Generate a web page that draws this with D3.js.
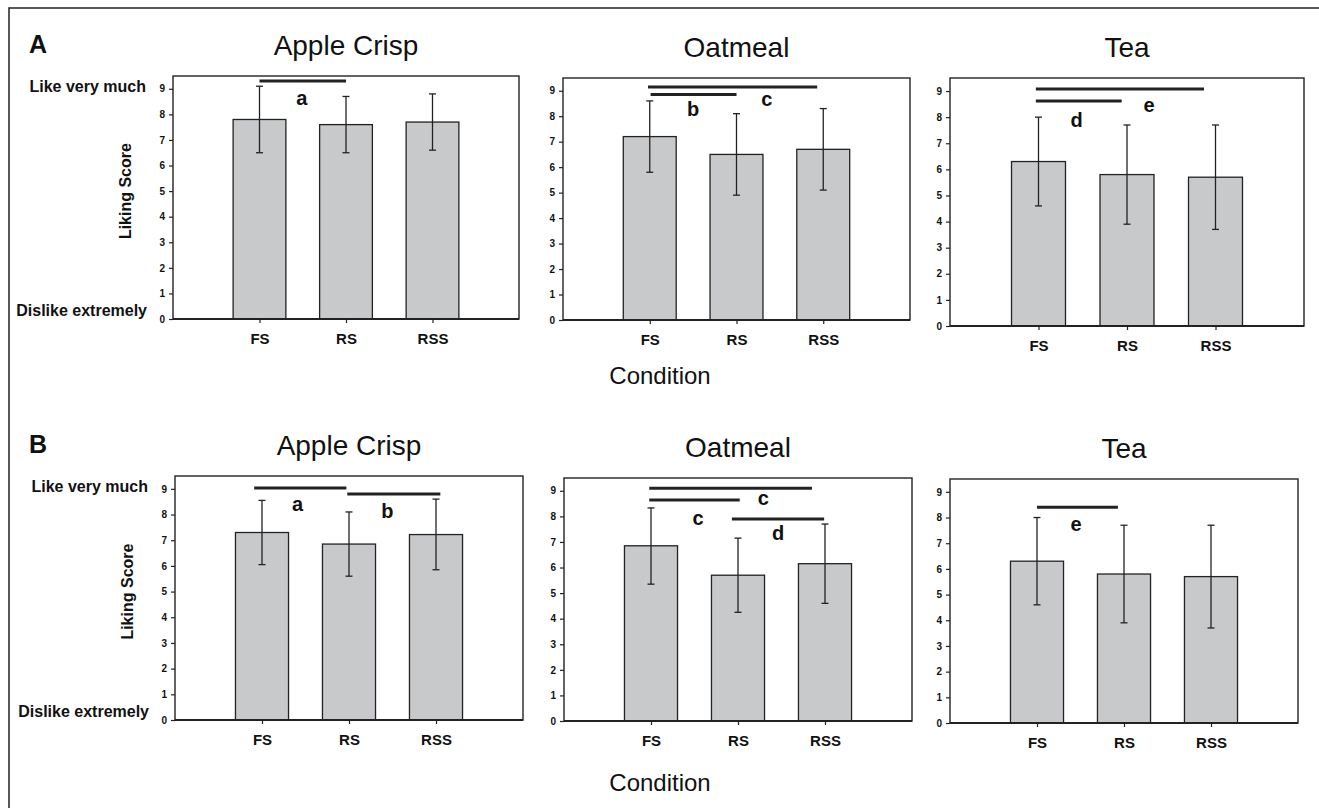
<!DOCTYPE html>
<html>
<head>
<meta charset="utf-8">
<script src="https://cdn.jsdelivr.net/npm/d3@7/dist/d3.min.js"></script>
<style>
  html, body { margin: 0; padding: 0; background: #fff; }
  svg { display: block; font-family: 'Liberation Sans', Arial, sans-serif; }
</style>
</head>
<body>
<div id="chart"></div>
<script>
// ---- data ----
const categories = ['FS', 'RS', 'RSS'];
const foods = ['Apple Crisp', 'Oatmeal', 'Tea'];
const yTicks = [0, 1, 2, 3, 4, 5, 6, 7, 8, 9];

// panel A
const meansA = [[7.8, 7.6, 7.7], [7.2, 6.5, 6.7], [6.3, 5.8, 5.7]];
const lowA = [[6.5, 6.5, 6.6], [5.8, 4.9, 5.1], [4.6, 3.9, 3.7]];
const highA = [[9.1, 8.7, 8.8], [8.6, 8.1, 8.3], [8.0, 7.7, 7.7]];
const sigBarsA = [
    [{ from: 1.0, to: 2.0, y: 9.3 }],
    [{ from: 0.98, to: 2.93, y: 9.15 }, { from: 1.01, to: 2.0, y: 8.85 }],
    [{ from: 0.97, to: 2.87, y: 9.08 }, { from: 0.97, to: 1.94, y: 8.62 }]
];
const sigLettersA = [
    [{ t: 'a', x: 1.49, y: 8.63 }],
    [{ t: 'b', x: 1.5, y: 8.27 }, { t: 'c', x: 2.35, y: 8.66 }],
    [{ t: 'd', x: 1.43, y: 7.9 }, { t: 'e', x: 2.25, y: 8.47 }]
];

// panel B
const meansB = [[7.3, 6.85, 7.22], [6.85, 5.7, 6.15], [6.3, 5.8, 5.7]];
const lowB = [[6.05, 5.6, 5.85], [5.35, 4.25, 4.6], [4.6, 3.9, 3.7]];
const highB = [[8.55, 8.1, 8.6], [8.33, 7.15, 7.7], [8.0, 7.7, 7.7]];
const sigBarsB = [
    [{ from: 0.91, to: 1.97, y: 9.03 }, { from: 1.98, to: 3.05, y: 8.8 }],
    [{ from: 0.98, to: 2.85, y: 9.1 }, { from: 0.98, to: 2.02, y: 8.64 }, { from: 1.93, to: 2.99, y: 7.9 }],
    [{ from: 1.0, to: 1.93, y: 8.4 }]
];
const sigLettersB = [
    [{ t: 'a', x: 1.41, y: 8.4 }, { t: 'b', x: 2.44, y: 8.13 }],
    [{ t: 'c', x: 2.29, y: 8.7 }, { t: 'c', x: 1.54, y: 7.94 }, { t: 'd', x: 2.46, y: 7.35 }],
    [{ t: 'e', x: 1.45, y: 7.74 }]
];

// ---- layout ----
const W = 1319, H = 808;
const ink = '#222';
const barFill = '#c8c9cb';

const rows = [
    {
        letter: 'A', means: meansA, low: lowA, high: highA, bars: sigBarsA, letters: sigLettersA,
        boxes: [[173, 519, 76, 319], [563, 910, 78, 320], [950, 1304, 78, 326]],
        conditionY: 384
    },
    {
        letter: 'B', means: meansB, low: lowB, high: highB, bars: sigBarsB, letters: sigLettersB,
        boxes: [[175, 523, 476, 720], [564, 912, 478, 721], [950, 1298, 479, 723]],
        conditionY: 791
    }
];

const svg = d3.select('#chart').append('svg')
    .attr('width', W).attr('height', H);

// outer frame (top + left only)
svg.append('path')
    .attr('d', `M9,808 L9,8 L${W},8`)
    .attr('fill', 'none').attr('stroke', ink).attr('stroke-width', 1.5);

rows.forEach(row => {
    svg.append('text')
        .attr('x', 29).attr('y', row.boxes[0][2] - 23)
        .attr('font-size', 25).attr('font-weight', 'bold').attr('fill', '#111')
        .text(row.letter);

    row.boxes.forEach((box, fi) => {
        const [x0, x1, y0, y1] = box;
        const x = d3.scaleLinear().domain([0, 4]).range([x0, x1]);
        const y = d3.scaleLinear().domain([0, 9.5]).range([y1, y0]);
        const unit = x(1) - x(0);
        const bw = unit * 0.61;
        const g = svg.append('g');

        // title
        g.append('text')
            .attr('x', (x0 + x1) / 2).attr('y', y0 - 21)
            .attr('text-anchor', 'middle')
            .attr('font-size', 28).attr('fill', '#111')
            .text(foods[fi]);

        // bars
        g.selectAll('rect.bar')
            .data(row.means[fi]).enter().append('rect')
            .attr('class', 'bar')
            .attr('x', (d, i) => x(i + 1) - bw / 2)
            .attr('y', d => y(d))
            .attr('width', bw)
            .attr('height', d => y(0) - y(d))
            .attr('fill', barFill).attr('stroke', ink).attr('stroke-width', 1.3);

        // error bars
        const err = categories.map((c, i) => ({ i, lo: row.low[fi][i], hi: row.high[fi][i] }));
        const eg = g.selectAll('g.err').data(err).enter().append('g')
            .attr('stroke', ink).attr('stroke-width', 1.3);
        eg.append('line')
            .attr('x1', d => x(d.i + 1)).attr('x2', d => x(d.i + 1))
            .attr('y1', d => y(d.lo)).attr('y2', d => y(d.hi));
        eg.append('line')
            .attr('x1', d => x(d.i + 1) - 3.5).attr('x2', d => x(d.i + 1) + 3.5)
            .attr('y1', d => y(d.lo)).attr('y2', d => y(d.lo));
        eg.append('line')
            .attr('x1', d => x(d.i + 1) - 3.5).attr('x2', d => x(d.i + 1) + 3.5)
            .attr('y1', d => y(d.hi)).attr('y2', d => y(d.hi));

        // frame
        g.append('rect')
            .attr('x', x0).attr('y', y0)
            .attr('width', x1 - x0).attr('height', y1 - y0)
            .attr('fill', 'none').attr('stroke', ink).attr('stroke-width', 1.4);
        g.append('line')
            .attr('x1', x0).attr('x2', x1).attr('y1', y1).attr('y2', y1)
            .attr('stroke', ink).attr('stroke-width', 2);

        // y axis
        const yAxis = g.append('g')
            .attr('transform', `translate(${x0},0)`)
            .call(d3.axisLeft(y).tickValues(yTicks).tickSize(4).tickPadding(4));
        yAxis.select('.domain').remove();
        yAxis.selectAll('line').attr('stroke', ink).attr('stroke-width', 1.2);
        yAxis.selectAll('text')
            .attr('font-family', "'Liberation Sans', Arial, sans-serif")
            .attr('font-size', 10).attr('font-weight', 'bold').attr('fill', '#111');

        // x axis
        const xAxis = g.append('g')
            .attr('transform', `translate(0,${y1})`)
            .call(d3.axisBottom(x).tickValues([1, 2, 3])
                .tickFormat(d => categories[d - 1]).tickSize(4).tickPadding(10));
        xAxis.select('.domain').remove();
        xAxis.selectAll('line').attr('stroke', ink).attr('stroke-width', 1.2);
        xAxis.selectAll('text')
            .attr('font-family', "'Liberation Sans', Arial, sans-serif")
            .attr('font-size', 15).attr('font-weight', 'bold').attr('fill', '#111');

        // significance bars
        g.selectAll('line.sig')
            .data(row.bars[fi]).enter().append('line')
            .attr('class', 'sig')
            .attr('x1', d => x(d.from)).attr('x2', d => x(d.to))
            .attr('y1', d => y(d.y)).attr('y2', d => y(d.y))
            .attr('stroke', ink).attr('stroke-width', 3);
        g.selectAll('text.sig')
            .data(row.letters[fi]).enter().append('text')
            .attr('class', 'sig')
            .attr('x', d => x(d.x)).attr('y', d => y(d.y))
            .attr('dy', '0.35em')
            .attr('text-anchor', 'middle')
            .attr('font-size', 20).attr('font-weight', 'bold').attr('fill', '#111')
            .text(d => d.t);

        // left-most panel: scale anchors and y label
        if (fi === 0) {
            g.append('text')
                .attr('x', x0 - 27).attr('y', y(9) + 3)
                .attr('text-anchor', 'end')
                .attr('font-size', 16).attr('font-weight', 'bold').attr('fill', '#111')
                .text('Like very much');
            g.append('text')
                .attr('x', x0 - 26).attr('y', y(0) - 3)
                .attr('text-anchor', 'end')
                .attr('font-size', 16).attr('font-weight', 'bold').attr('fill', '#111')
                .text('Dislike extremely');
            g.append('text')
                .attr('transform', `translate(${x0 - 42},${y(5)}) rotate(-90)`)
                .attr('text-anchor', 'middle')
                .attr('font-size', 16).attr('font-weight', 'bold').attr('fill', '#111')
                .text('Liking Score');
        }
    });

    svg.append('text')
        .attr('x', 660).attr('y', row.conditionY)
        .attr('text-anchor', 'middle')
        .attr('font-size', 24).attr('fill', '#111')
        .text('Condition');
});
</script>
</body>
</html>
